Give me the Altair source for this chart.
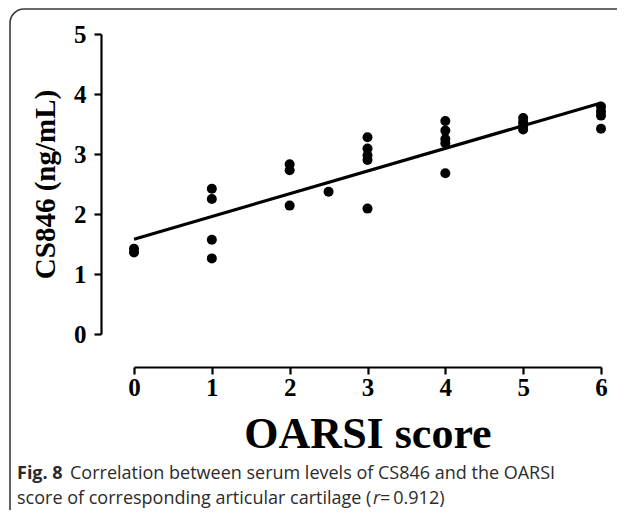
import altair as alt
import pandas as pd

# OARSI score (x) and CS846 serum level (y)
score = [0, 0,
         1, 1, 1, 1,
         2, 2, 2,
         2.5,
         3, 3, 3, 3, 3,
         4, 4, 4, 4, 4,
         5, 5, 5, 5,
         6, 6, 6, 6]
cs846 = [1.36, 1.42,
         2.42, 2.25, 1.57, 1.26,
         2.83, 2.73, 2.14,
         2.37,
         3.28, 3.09, 2.98, 2.90, 2.09,
         3.55, 3.39, 3.25, 3.18, 2.68,
         3.60, 3.53, 3.47, 3.41,
         3.79, 3.71, 3.64, 3.42]

# fitted line endpoints
fit_x = [0, 6]
fit_y = [1.58, 3.85]

x_ticks = [0, 1, 2, 3, 4, 5, 6]
y_ticks = [0, 1, 2, 3, 4, 5]

pts = pd.DataFrame({"score": score, "cs846": cs846})
fit = pd.DataFrame({"score": fit_x, "cs846": fit_y})

SERIF = "Liberation Serif"
SANS = "Open Sans"

xs = alt.Scale(domain=[0, 6], nice=False, zero=False)
ys = alt.Scale(domain=[0, 5], nice=False, zero=False)

x_axis = alt.Axis(values=x_ticks, format="d", title="OARSI score", offset=33,
                  domainColor="black", domainWidth=2.2, tickColor="black", tickWidth=2.2,
                  tickSize=7, labelFont=SERIF, labelFontWeight="bold", labelFontSize=25,
                  labelColor="black", labelPadding=1, titleFont=SERIF, titleFontWeight="bold",
                  titleFontSize=44, titleColor="black", titlePadding=12, grid=False,
                  labelFlush=False)
y_axis = alt.Axis(values=y_ticks, format="d", title="CS846 (ng/mL)", offset=33,
                  domainColor="black", domainWidth=2.2, tickColor="black", tickWidth=2.2,
                  tickSize=7, labelFont=SERIF, labelFontWeight="bold", labelFontSize=25,
                  labelColor="black", labelPadding=8, titleFont=SERIF, titleFontWeight="bold",
                  titleFontSize=29, titleColor="black", titlePadding=13, grid=False,
                  labelFlush=False)

points = alt.Chart(pts).mark_circle(size=100, color="black", opacity=1).encode(
    x=alt.X("score:Q", scale=xs, axis=x_axis),
    y=alt.Y("cs846:Q", scale=ys, axis=y_axis),
)

line = alt.Chart(fit).mark_line(color="black", strokeWidth=3.2).encode(
    x=alt.X("score:Q", scale=xs),
    y=alt.Y("cs846:Q", scale=ys),
)

frame = alt.Chart(pd.DataFrame({"a": [0]})).mark_rect(
    filled=False, stroke="#3a3a3a", strokeWidth=1.6, cornerRadius=14, clip=False
).encode(x=alt.value(-124), x2=alt.value(540), y=alt.value(-25), y2=alt.value(490))

cap_color = "#2b2b2b"
FS = 18
cap = pd.DataFrame({"a": [0]})
fig_lbl = alt.Chart(cap).mark_text(text="Fig. 8", font=SANS, fontWeight="bold", fontSize=FS,
                                   align="left", baseline="alphabetic", color=cap_color).encode(
    x=alt.value(-117), y=alt.value(445))
line1 = alt.Chart(cap).mark_text(text="Correlation between serum levels of CS846 and the OARSI",
                                 font=SANS, fontSize=FS, align="left", baseline="alphabetic",
                                 color=cap_color).encode(x=alt.value(-64), y=alt.value(445))
line2a = alt.Chart(cap).mark_text(text="score of corresponding articular cartilage (",
                                  font=SANS, fontSize=FS, align="left", baseline="alphabetic",
                                  color=cap_color).encode(x=alt.value(-117), y=alt.value(470))
line2b = alt.Chart(cap).mark_text(text="r", font=SANS, fontSize=FS, fontStyle="italic",
                                  align="left", baseline="alphabetic",
                                  color=cap_color).encode(x=alt.value(239), y=alt.value(470))
line2c = alt.Chart(cap).mark_text(text="\u2009=\u20090.912)", font=SANS, fontSize=FS,
                                  align="left", baseline="alphabetic",
                                  color=cap_color).encode(x=alt.value(246), y=alt.value(470))

chart = alt.layer(frame, line, points, fig_lbl, line1, line2a, line2b, line2c).properties(
    width=467, height=300,
    padding={"left": 126, "top": 26, "right": 16, "bottom": 176},
    autosize=alt.AutoSizeParams(type="none"),
    background="white",
).configure_view(strokeWidth=0, stroke="transparent")

chart.save("out.html", embed_options={"renderer": "svg", "actions": False})
